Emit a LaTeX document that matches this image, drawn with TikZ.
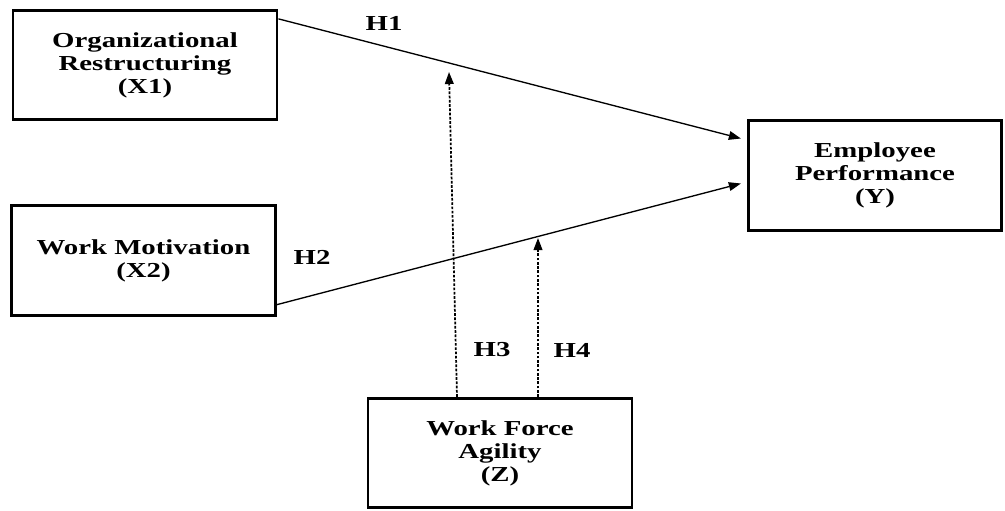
\documentclass[tikz,border=0pt]{standalone}
\usepackage{fontspec}
\setmainfont{Liberation Serif}[FakeStretch=1.35]
\usetikzlibrary{arrows.meta,calc}

\tikzset{
    varbox/.style={draw, line width=2.2pt, minimum width=198pt, minimum height=82pt, align=center, inner sep=2pt, font=\fontsize{16}{17.2}\selectfont\bfseries},
    hlabel/.style={font=\fontsize{16}{17.2}\selectfont\bfseries, inner sep=0.75pt},
    direct/.style={line width=1pt, -{Triangle[length=9pt,width=6.5pt]}},
    moderate/.style={line width=1.3pt, dash pattern=on 2pt off 1.2pt, -{Triangle[length=9pt,width=6.5pt]}}
}

\begin{document}
\begin{tikzpicture}[x=0.75pt,y=0.75pt,yscale=-1,xscale=1]
    \useasboundingbox (0,0) rectangle (1005,510);

    % Boxes
    \node [varbox] (x1) at (145,65) {Organizational\\Restructuring\\(X1)};
    \node [varbox] (x2) at (143.5,260.5) {Work Motivation\\(X2)};
    \node [varbox, minimum width=190pt] (y) at (875,175.5) {Employee\\Performance\\(Y)};
    \node [varbox] (z) at (500,453) {Work Force\\Agility\\(Z)};

    % End points of the paths
    \coordinate (h1s) at ($(x1.north east)+(0,10)$);
    \coordinate (h1e) at ($(y.west)+(-6,-37)$);
    \coordinate (h2s) at ($(x2.south east)+(0,-12)$);
    \coordinate (h2e) at ($(y.west)+(-6,8)$);
    \coordinate (h3s) at ($(z.north)+(-43,0)$);
    \coordinate (h3e) at (449,72);
    \coordinate (h4s) at ($(z.north)+(38,0)$);
    \coordinate (h4e) at (538,238);

    % Direct paths
    \draw [direct] (h1s) -- (h1e);
    \draw [direct] (h2s) -- (h2e);
    % Moderating paths
    \draw [moderate] (h3s) -- (h3e);
    \draw [moderate] (h4s) -- (h4e);

    % Labels
    \node [hlabel] (lh1) at (384,23) {H1};
    \node [hlabel] (lh2) at (312,257) {H2};
    \node [hlabel] (lh3) at (492,350) {H3};
    \node [hlabel] (lh4) at (572,350) {H4};
\end{tikzpicture}
\end{document}
